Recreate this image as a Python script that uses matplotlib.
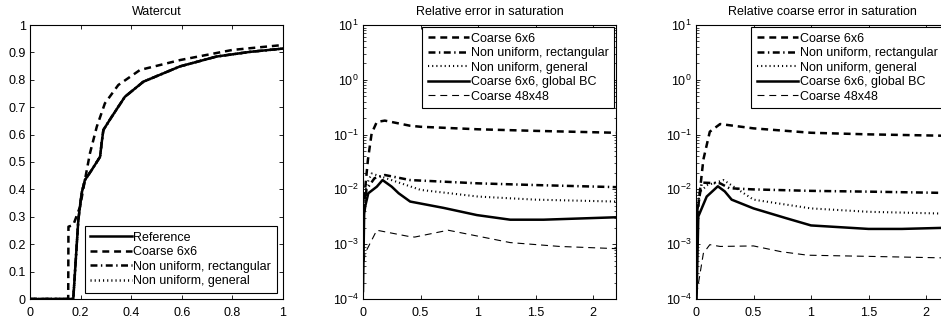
import matplotlib
matplotlib.use("Agg")
import matplotlib.pyplot as plt

plt.rcParams["font.family"] = ["Liberation Sans", "DejaVu Sans"]
plt.rcParams["lines.scale_dashes"] = False
plt.rcParams["mathtext.default"] = "regular"

# --- watercut panel ---
wc_ref_t = [0.0, 0.171, 0.191, 0.204, 0.217, 0.244, 0.277, 0.283, 0.29, 0.323,
            0.375, 0.448, 0.593, 0.738, 0.87, 1.0]
wc_ref = [0.0, 0.0, 0.288, 0.386, 0.434, 0.471, 0.519, 0.568, 0.617, 0.665,
          0.738, 0.793, 0.849, 0.885, 0.902, 0.914]
wc_coarse_t = [0.0, 0.151, 0.152, 0.171, 0.198, 0.217, 0.237, 0.264, 0.296, 0.349,
               0.435, 0.593, 0.8, 1.0]
wc_coarse = [0.0, 0.0, 0.264, 0.27, 0.337, 0.434, 0.532, 0.629, 0.714, 0.781,
             0.836, 0.872, 0.909, 0.927]
wc_rect_t = wc_ref_t
wc_rect = wc_ref
wc_gen_t = wc_ref_t
wc_gen = wc_ref

# --- relative error in saturation ---
e_coarse_t = [0.01, 0.02, 0.043, 0.075, 0.12, 0.19, 0.41, 0.5, 1.0, 1.5, 2.2]
e_coarse = [0.004, 0.011, 0.035, 0.105, 0.17, 0.18, 0.145, 0.139, 0.125, 0.117, 0.108]
e_rect_t = [0.01, 0.03, 0.1, 0.19, 0.41, 1.0, 1.5, 2.2]
e_rect = [0.004, 0.01, 0.016, 0.0183, 0.0148, 0.0129, 0.012, 0.011]
e_gen_t = [0.01, 0.03, 0.075, 0.2, 0.5, 1.0, 1.5, 2.2]
e_gen = [0.005, 0.012, 0.0195, 0.016, 0.0098, 0.0074, 0.0065, 0.006]
e_glob_t = [0.0, 0.01, 0.02, 0.046, 0.12, 0.17, 0.25, 0.31, 0.41, 0.7, 0.99,
            1.28, 1.57, 2.2]
e_glob = [1.4e-4, 3.6e-3, 5e-3, 8.5e-3, 1.12e-2, 1.48e-2, 1.12e-2, 8.5e-3, 6e-3,
          4.6e-3, 3.4e-3, 2.8e-3, 2.8e-3, 3.1e-3]
e_fine_t = [0.0, 0.017, 0.12, 0.41, 0.45, 0.74, 1.28, 1.71, 2.2]
e_fine = [3e-4, 6.8e-4, 1.8e-3, 1.37e-3, 1.35e-3, 1.8e-3, 1.07e-3, 9.1e-4, 8.3e-4]

# --- relative coarse error in saturation ---
c_coarse_t = [0.01, 0.035, 0.064, 0.12, 0.21, 0.5, 1.0, 1.5, 2.2]
c_coarse = [0.003, 0.0098, 0.035, 0.113, 0.156, 0.13, 0.108, 0.101, 0.095]
c_rect_t = [0.01, 0.05, 0.21, 0.29, 0.5, 1.0, 1.5, 2.2]
c_rect = [0.004, 0.0133, 0.0129, 0.0105, 0.01, 0.0094, 0.0091, 0.0086]
c_gen_t = [0.01, 0.035, 0.1, 0.24, 0.5, 1.0, 1.5, 2.2]
c_gen = [0.004, 0.0091, 0.012, 0.0148, 0.0065, 0.0045, 0.0039, 0.0036]
c_glob_t = [0.005, 0.02, 0.093, 0.19, 0.25, 0.31, 0.5, 0.78, 1.0, 1.5, 1.79, 2.2]
c_glob = [1e-4, 3.2e-3, 7.4e-3, 1.14e-2, 9.2e-3, 6.5e-3, 4.5e-3, 3.0e-3, 2.2e-3,
          1.9e-3, 1.9e-3, 2.0e-3]
c_fine_t = [0.005, 0.064, 0.12, 0.21, 0.5, 0.74, 0.97, 1.5, 2.2]
c_fine = [1.2e-4, 6.8e-4, 9.8e-4, 9.1e-4, 9.3e-4, 7.3e-4, 6.3e-4, 6.0e-4, 5.6e-4]

LABELS = ["Coarse 6x6", "Non uniform, rectangular", "Non uniform, general",
          "Coarse 6x6, global BC", "Coarse 48x48"]

THICK = dict(color="black", lw=1.8)
DASH = (0, (5, 3.5))
DASHDOT = (0, (5, 2.5, 1, 2.5))
DOT = (0, (0.8, 2.2))
LEG_KW = dict(borderaxespad=0, fontsize=9, handlelength=3.3, handletextpad=0.15,
              labelspacing=0.2, borderpad=0.45, fancybox=False, framealpha=1,
              edgecolor="black")

fig = plt.figure(figsize=(9.41, 3.2), dpi=100)
W, H = 941, 320


def add_ax(left_px):
    return fig.add_axes([left_px / W, 21 / H, 253 / W, 274 / H])


def style(ax):
    ax.tick_params(direction="in", top=True, right=True, labelsize=9,
                   length=3, width=0.6, pad=3)
    ax.tick_params(axis="x", pad=6)
    ax.tick_params(which="minor", direction="in", top=True, right=True,
                   length=1.8, width=0.5)
    for s in ax.spines.values():
        s.set_linewidth(0.8)


# panel 1
ax = add_ax(30)
ax.plot(wc_gen_t, wc_gen, ls=DOT, **THICK, label="Non uniform, general")
ax.plot(wc_rect_t, wc_rect, ls=DASHDOT, **THICK, label="Non uniform, rectangular")
ax.plot(wc_coarse_t, wc_coarse, ls=DASH, **THICK, label="Coarse 6x6")
ax.plot(wc_ref_t, wc_ref, ls="-", **THICK, label="Reference")
ax.set_xlim(0, 1)
ax.set_ylim(0, 1)
ax.set_xticks([0, 0.2, 0.4, 0.6, 0.8, 1])
ax.set_xticklabels(["0", "0.2", "0.4", "0.6", "0.8", "1"])
ax.set_yticks([i / 10 for i in range(11)])
ax.set_yticklabels(["0"] + [f"0.{i}" for i in range(1, 10)] + ["1"])
ax.set_title("Watercut", fontsize=9, pad=7)
style(ax)
h, l = ax.get_legend_handles_labels()
order = [3, 2, 1, 0]
leg = ax.legend([h[i] for i in order], [l[i] for i in order], loc="lower right",
                bbox_to_anchor=(0.976, 0.022), **LEG_KW)
leg.get_frame().set_linewidth(0.8)


def err_panel(left_px, title, data, leg_x):
    ax = add_ax(left_px)
    (ct, cv), (rt, rv), (gt, gv), (bt, bv), (ft, fv) = data
    ax.semilogy(ct, cv, ls=DASH, **THICK, label=LABELS[0])
    ax.semilogy(rt, rv, ls=DASHDOT, **THICK, label=LABELS[1])
    ax.semilogy(gt, gv, ls=DOT, color="black", lw=1.5, label=LABELS[2])
    ax.semilogy(bt, bv, ls="-", **THICK, label=LABELS[3])
    ax.semilogy(ft, fv, ls=DASH, color="black", lw=0.8, label=LABELS[4])
    ax.set_xlim(0, 2.2)
    ax.set_ylim(1e-4, 1e1)
    ax.set_xticks([0, 0.5, 1, 1.5, 2])
    ax.set_xticklabels(["0", "0.5", "1", "1.5", "2"])
    ax.set_title(title, fontsize=9, pad=7)
    style(ax)
    leg = ax.legend(loc="upper left", bbox_to_anchor=(leg_x, 0.993), **LEG_KW)
    leg.get_frame().set_linewidth(0.8)
    return ax


err_panel(363, "Relative error in saturation",
          [(e_coarse_t, e_coarse), (e_rect_t, e_rect), (e_gen_t, e_gen),
           (e_glob_t, e_glob), (e_fine_t, e_fine)], 0.233)
err_panel(696, "Relative coarse error in saturation",
          [(c_coarse_t, c_coarse), (c_rect_t, c_rect), (c_gen_t, c_gen),
           (c_glob_t, c_glob), (c_fine_t, c_fine)], 0.217)

fig.savefig("out.png", dpi=100)
